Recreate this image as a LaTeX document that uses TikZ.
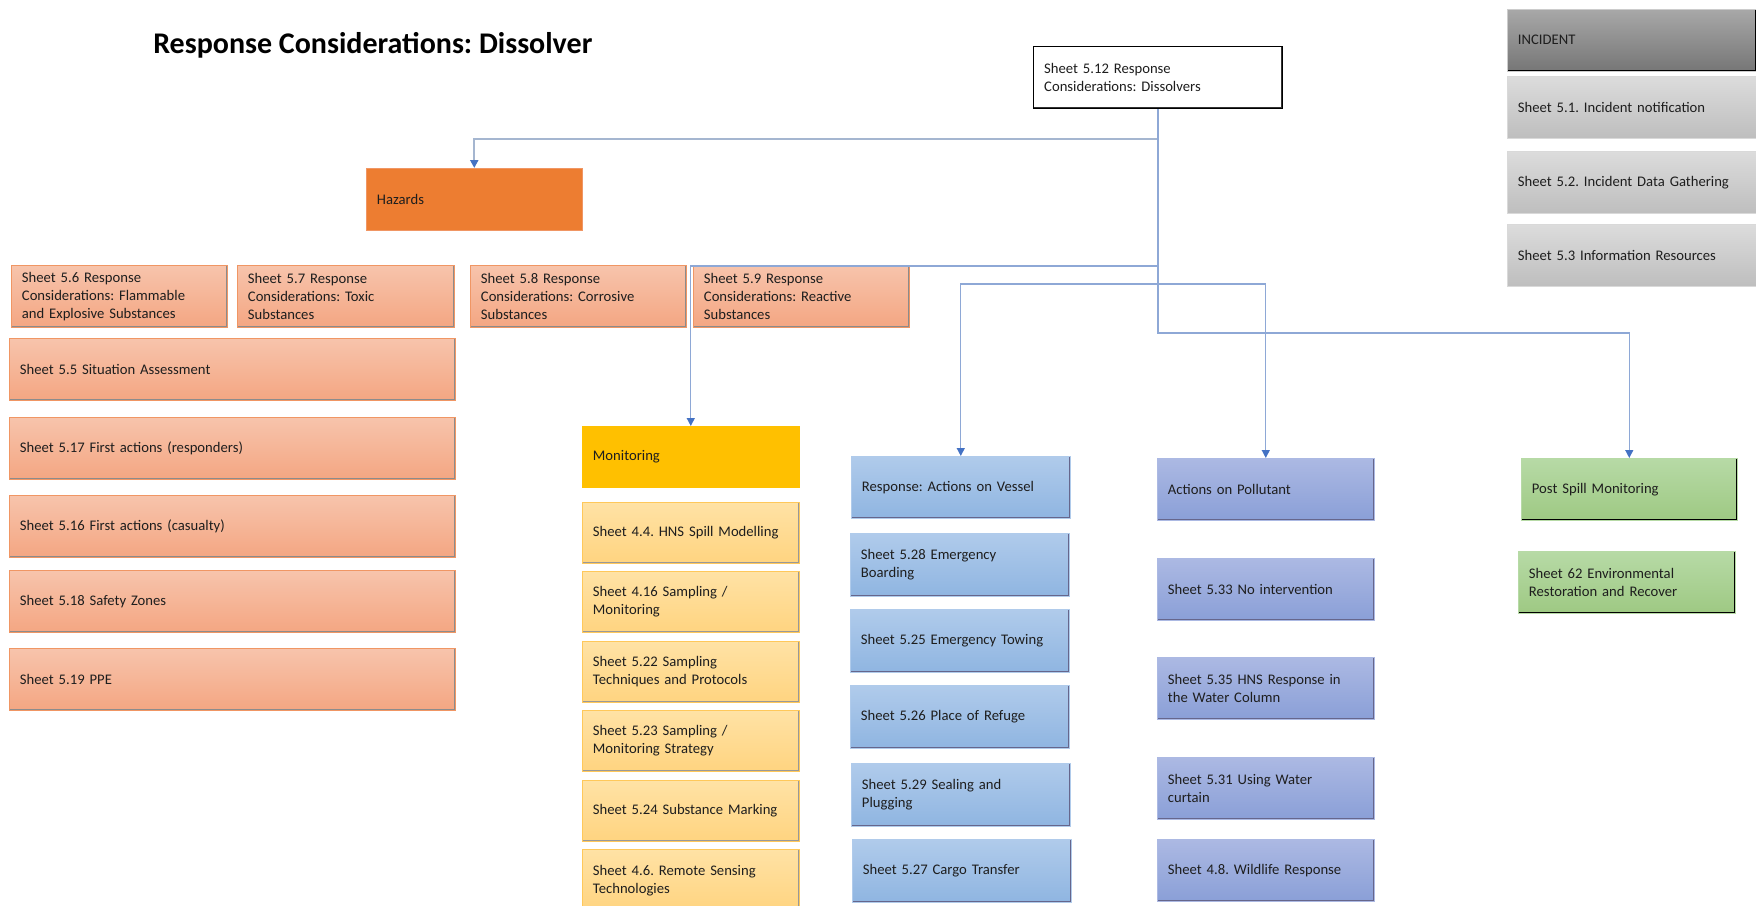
\documentclass[tikz,border=0pt]{standalone}
\usepackage{fontspec}
\setmainfont{Carlito}
\usetikzlibrary{arrows.meta}
\frenchspacing

\definecolor{orgtop}{RGB}{247,196,172}
\definecolor{orgbot}{RGB}{244,166,130}
\definecolor{orgline}{RGB}{240,150,100}
\definecolor{hazfill}{RGB}{237,125,49}
\definecolor{monfill}{RGB}{255,192,0}
\definecolor{yeltop}{RGB}{255,226,165}
\definecolor{yelbot}{RGB}{255,212,128}
\definecolor{yelline}{RGB}{255,200,90}
\definecolor{vestop}{RGB}{176,203,235}
\definecolor{vesbot}{RGB}{143,181,225}
\definecolor{poltop}{RGB}{172,185,227}
\definecolor{polbot}{RGB}{138,159,215}
\definecolor{grntop}{RGB}{183,218,166}
\definecolor{grnbot}{RGB}{158,201,131}
\definecolor{inctop}{RGB}{168,168,168}
\definecolor{incbot}{RGB}{118,118,118}
\definecolor{gratop}{RGB}{220,220,220}
\definecolor{grabot}{RGB}{190,190,190}
\definecolor{linkblue}{RGB}{142,168,214}
\definecolor{hazlink}{RGB}{165,182,208}
\definecolor{arrowblue}{RGB}{68,114,196}
\definecolor{txt}{RGB}{30,30,30}

\begin{document}
\begin{tikzpicture}[x=0.75pt,y=0.75pt,yscale=-1,xscale=1,
    % box with text placed left, sizes in px
    sheet/.style 2 args={rectangle, anchor=north west, inner xsep=8pt, inner ysep=0pt,
      align=left, text width=#1*0.75pt-16pt, minimum height=#2*0.75pt,
      text=txt, font=\fontsize{11}{13.5}\selectfont},
    rimshade/.style={path picture={\draw[line width=2.4pt,#1]
      (path picture bounding box.north east) -- (path picture bounding box.south east)
      -- (path picture bounding box.south west);}},
    orangebox/.style={top color=orgtop, bottom color=orgbot, draw=orgline, rimshade={black!45}},
    yellowbox/.style={top color=yeltop, bottom color=yelbot, draw=yelline, rimshade={black!40}},
    vesselbox/.style={top color=vestop, bottom color=vesbot, draw=vestop, rimshade={black!75!blue!60}},
    pollbox/.style={top color=poltop, bottom color=polbot, draw=poltop, rimshade={black!75!blue!60}},
    greenbox/.style={top color=grntop, bottom color=grnbot, draw=grntop, rimshade={black}},
    graybox/.style={top color=gratop, bottom color=grabot, draw=black!15},
    link/.style={draw=linkblue, line width=1pt, -{Triangle[width=6pt,length=6pt,color=arrowblue]}}
  ]
\useasboundingbox (0,0) rectangle (1756,906);

% Title
\node[anchor=west, inner sep=0pt, font=\fontsize{22.5}{27}\selectfont\bfseries] (title) at (153,45) {Response Considerations: Dissolver};

% Top box
\node[sheet={249}{62}, fill=white, draw=black, line width=0.8pt, rimshade={black!80}] (top) at (1033,46) {Sheet 5.12 Response\\Considerations: Dissolvers};

% Incident column
\node[sheet={249}{62}, top color=inctop, bottom color=incbot, draw=black!20, rimshade={black}] (incident) at (1507,9) {INCIDENT};
\node[sheet={249}{62}, graybox] (s51) at (1507,76) {Sheet 5.1. Incident notification};
\node[sheet={249}{62}, graybox] (s52) at (1507,151) {Sheet 5.2. Incident Data Gathering};
\node[sheet={249}{62}, graybox] (s53) at (1507,224) {Sheet 5.3 Information Resources};

% Hazards
\node[sheet={216}{62}, fill=hazfill, draw=orgline] (hazards) at (366,168) {Hazards};
\node[sheet={216}{62}, orangebox] (s56) at (11,265) {Sheet 5.6 Response\\Considerations: Flammable\\and Explosive Substances};
\node[sheet={217}{62}, orangebox] (s57) at (237,265) {Sheet 5.7 Response\\Considerations: Toxic\\Substances};
\node[sheet={216}{62}, orangebox] (s58) at (470,265) {Sheet 5.8 Response\\Considerations: Corrosive\\Substances};
\node[sheet={216}{62}, orangebox] (s59) at (693,265) {Sheet 5.9 Response\\Considerations: Reactive\\Substances};
\node[sheet={446}{62}, orangebox] (s55) at (9,338) {Sheet 5.5 Situation Assessment};
\node[sheet={446}{62}, orangebox] (s517) at (9,417) {Sheet 5.17 First actions (responders)};
\node[sheet={446}{62}, orangebox] (s516) at (9,495) {Sheet 5.16 First actions (casualty)};
\node[sheet={446}{62}, orangebox] (s518) at (9,570) {Sheet 5.18 Safety Zones};
\node[sheet={446}{62}, orangebox] (s519) at (9,648) {Sheet 5.19 PPE};

% Monitoring
\node[sheet={217}{61}, fill=monfill, draw=monfill] (monitor) at (582,426) {Monitoring};
\node[sheet={217}{61}, yellowbox] (s44) at (582,502) {Sheet 4.4. HNS Spill Modelling};
\node[sheet={217}{61}, yellowbox] (s416) at (582,571) {Sheet 4.16 Sampling /\\Monitoring};
\node[sheet={217}{61}, yellowbox] (s522) at (582,641) {Sheet 5.22 Sampling\\Techniques and Protocols};
\node[sheet={217}{61}, yellowbox] (s523) at (582,710) {Sheet 5.23 Sampling /\\Monitoring Strategy};
\node[sheet={217}{61}, yellowbox] (s524) at (582,780) {Sheet 5.24 Substance Marking};
\node[sheet={217}{62}, yellowbox] (s46) at (582,849) {Sheet 4.6. Remote Sensing\\Technologies};

% Vessel
\node[sheet={219}{62}, vesselbox] (vessel) at (851,456) {Response: Actions on Vessel};
\node[sheet={219}{63}, vesselbox] (s528) at (850,533) {Sheet 5.28 Emergency\\Boarding};
\node[sheet={219}{63}, vesselbox] (s525) at (850,609) {Sheet 5.25 Emergency Towing};
\node[sheet={219}{63}, vesselbox] (s526) at (850,685) {Sheet 5.26 Place of Refuge};
\node[sheet={219}{63}, vesselbox] (s529) at (851,763) {Sheet 5.29 Sealing and\\Plugging};
\node[sheet={219}{63}, vesselbox] (s527) at (852,839) {Sheet 5.27 Cargo Transfer};

% Pollutant
\node[sheet={217}{62}, pollbox] (pollutant) at (1157,458) {Actions on Pollutant};
\node[sheet={217}{62}, pollbox] (s533) at (1157,558) {Sheet 5.33 No intervention};
\node[sheet={217}{62}, pollbox] (s535) at (1157,657) {Sheet 5.35 HNS Response in\\the Water Column};
\node[sheet={217}{62}, pollbox] (s531) at (1157,757) {Sheet 5.31 Using Water\\curtain};
\node[sheet={217}{62}, pollbox] (s48) at (1157,839) {Sheet 4.8. Wildlife Response};

% Post spill
\node[sheet={216}{62}, greenbox] (postspill) at (1521,458) {Post Spill Monitoring};
\node[sheet={217}{62}, greenbox] (s62) at (1518,551) {Sheet 62 Environmental\\Restoration and Recover};

% Connectors
\draw[link, draw=hazlink, line width=1.6pt] (top.south) -- ++(0,30) -| (hazards.north);
\draw[link] (top.south) -- ++(0,157) -| (monitor.north);
\draw[link] (top.south) -- ++(0,175) -| (vessel.north);
\draw[link] (top.south) ++(0,175) -| (pollutant.north);
\draw[link] (top.south) -- ++(0,224) -| (postspill.north);
\end{tikzpicture}
\end{document}
